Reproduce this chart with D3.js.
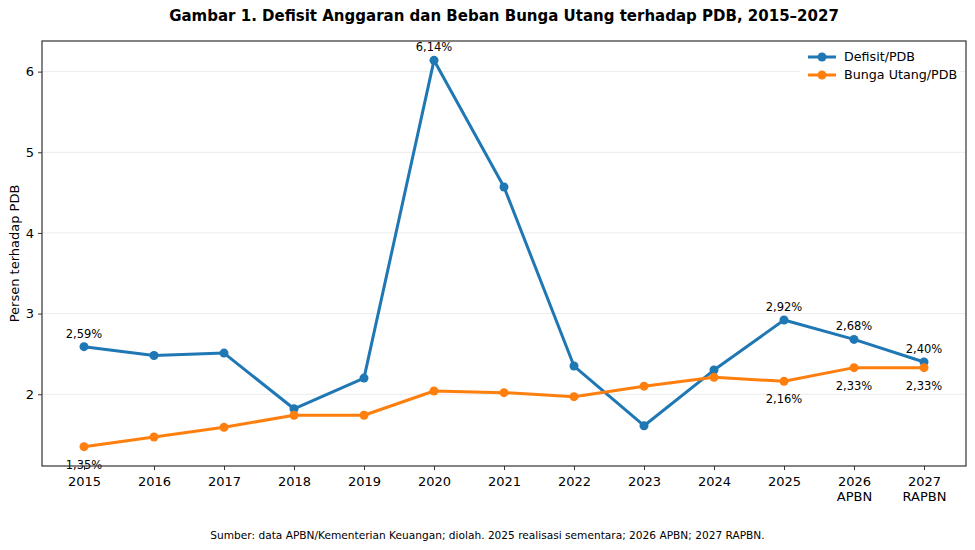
<!DOCTYPE html>
<html>
<head>
<meta charset="utf-8">
<script src="https://cdn.jsdelivr.net/npm/d3@7"></script>
<style>
  body { margin: 0; background: #fff; }
  text { font-family: "DejaVu Sans", sans-serif; fill: #000; }
</style>
</head>
<body>
<svg id="chart" width="975" height="550"></svg>
<script>
const years = [2015, 2016, 2017, 2018, 2019, 2020, 2021, 2022, 2023, 2024, 2025, 2026, 2027];
const yearLabels = ['2015', '2016', '2017', '2018', '2019', '2020', '2021', '2022', '2023', '2024', '2025', '2026\nAPBN', '2027\nRAPBN'];
const defisit = [2.59, 2.48, 2.51, 1.82, 2.20, 6.14, 4.57, 2.35, 1.61, 2.30, 2.92, 2.68, 2.40];
const bunga = [1.35, 1.47, 1.59, 1.74, 1.74, 2.04, 2.02, 1.97, 2.10, 2.21, 2.16, 2.33, 2.33];
// which years get a value label
const defisitLabelled = [2015, 2020, 2025, 2026, 2027];
const bungaLabelled = [2015, 2025, 2026, 2027];
const yTicks = [2, 3, 4, 5, 6];

const width = 975;
const height = 550;
const margin = { top: 41, right: 9, bottom: 84, left: 42 };

const blue = '#1f77b4';
const orange = '#ff7f0e';

const svg = d3.select('#chart');

const x = d3.scaleLinear()
  .domain([2015 - 0.6, 2027 + 0.6])
  .range([margin.left, width - margin.right]);

const lo = d3.min(bunga), hi = d3.max(defisit);
const pad = (hi - lo) * 0.05;
const y = d3.scaleLinear()
  .domain([lo - pad, hi + pad])
  .range([height - margin.bottom, margin.top]);

const fmt = v => v.toFixed(2).replace('.', ',') + '%';

// grid
svg.append('g')
  .selectAll('line')
  .data(yTicks)
  .join('line')
  .attr('x1', margin.left)
  .attr('x2', width - margin.right)
  .attr('y1', d => y(d))
  .attr('y2', d => y(d))
  .attr('stroke', '#ebebeb')
  .attr('stroke-width', 1);

// y axis
const yAxis = svg.append('g')
  .attr('transform', `translate(${margin.left},0)`)
  .call(d3.axisLeft(y).tickValues(yTicks).tickFormat(d3.format('d')).tickSize(4).tickPadding(4));
yAxis.select('.domain').remove();
yAxis.selectAll('text').attr('font-size', 13).attr('font-family', 'DejaVu Sans');
yAxis.selectAll('line').attr('stroke', '#333');

// x axis
const xAxis = svg.append('g')
  .attr('transform', `translate(0,${height - margin.bottom})`)
  .call(d3.axisBottom(x).tickValues(years).tickFormat('').tickSize(4));
xAxis.select('.domain').remove();
xAxis.selectAll('line').attr('stroke', '#333');
xAxis.selectAll('.tick')
  .append('text')
  .attr('text-anchor', 'middle')
  .attr('font-size', 13)
  .attr('fill', '#000')
  .each(function(d, i) {
    const lines = yearLabels[i].split('\n');
    d3.select(this).selectAll('tspan')
      .data(lines)
      .join('tspan')
      .attr('x', 0)
      .attr('y', (l, j) => 20 + j * 15)
      .text(l => l);
  });

svg.append('text')
  .attr('transform', `translate(19,${(margin.top + height - margin.bottom) / 2}) rotate(-90)`)
  .attr('text-anchor', 'middle')
  .attr('font-size', 13)
  .text('Persen terhadap PDB');

const line = d3.line()
  .x((d, i) => x(years[i]))
  .y(d => y(d));

const series = [
  { name: 'Defisit/PDB', values: defisit, color: blue },
  { name: 'Bunga Utang/PDB', values: bunga, color: orange }
];

series.forEach(s => {
  svg.append('path')
    .datum(s.values)
    .attr('fill', 'none')
    .attr('stroke', s.color)
    .attr('stroke-width', 3)
    .attr('stroke-linejoin', 'round')
    .attr('d', line);
  svg.append('g')
    .selectAll('circle')
    .data(s.values)
    .join('circle')
    .attr('cx', (d, i) => x(years[i]))
    .attr('cy', d => y(d))
    .attr('r', 4.5)
    .attr('fill', s.color);
});

// value labels
svg.append('g')
  .selectAll('text')
  .data(years.map((yr, i) => ({ yr, v: defisit[i] })).filter(d => defisitLabelled.includes(d.yr)))
  .join('text')
  .attr('x', d => x(d.yr))
  .attr('y', d => y(d.v) - 9)
  .attr('text-anchor', 'middle')
  .attr('font-size', 11.5)
  .text(d => fmt(d.v));

svg.append('g')
  .selectAll('text')
  .data(years.map((yr, i) => ({ yr, v: bunga[i] })).filter(d => bungaLabelled.includes(d.yr)))
  .join('text')
  .attr('x', d => x(d.yr))
  .attr('y', d => y(d.v) + 22)
  .attr('text-anchor', 'middle')
  .attr('font-size', 11.5)
  .text(d => fmt(d.v));

// frame
svg.append('rect')
  .attr('x', margin.left)
  .attr('y', margin.top)
  .attr('width', width - margin.left - margin.right)
  .attr('height', height - margin.top - margin.bottom)
  .attr('fill', 'none')
  .attr('stroke', '#333')
  .attr('stroke-width', 1.2);

// legend
const legend = svg.append('g').attr('transform', 'translate(800,46)');
legend.append('rect')
  .attr('width', 160)
  .attr('height', 42)
  .attr('fill', '#fff')
  .attr('opacity', 0.85);
series.forEach((s, i) => {
  const g = legend.append('g').attr('transform', `translate(8,${11 + i * 18})`);
  g.append('line').attr('x1', 0).attr('x2', 28).attr('stroke', s.color).attr('stroke-width', 3);
  g.append('circle').attr('cx', 14).attr('r', 4.5).attr('fill', s.color);
  g.append('text').attr('x', 36).attr('dy', '0.35em').attr('font-size', 12.7).text(s.name);
});

// title and source
svg.append('text')
  .attr('x', (margin.left + width - margin.right) / 2)
  .attr('y', 21)
  .attr('text-anchor', 'middle')
  .attr('font-size', 15)
  .attr('font-weight', 'bold')
  .text('Gambar 1. Defisit Anggaran dan Beban Bunga Utang terhadap PDB, 2015–2027');

svg.append('text')
  .attr('x', width / 2)
  .attr('y', 539)
  .attr('text-anchor', 'middle')
  .attr('font-size', 10.6)
  .text('Sumber: data APBN/Kementerian Keuangan; diolah. 2025 realisasi sementara; 2026 APBN; 2027 RAPBN.');
</script>
</body>
</html>
